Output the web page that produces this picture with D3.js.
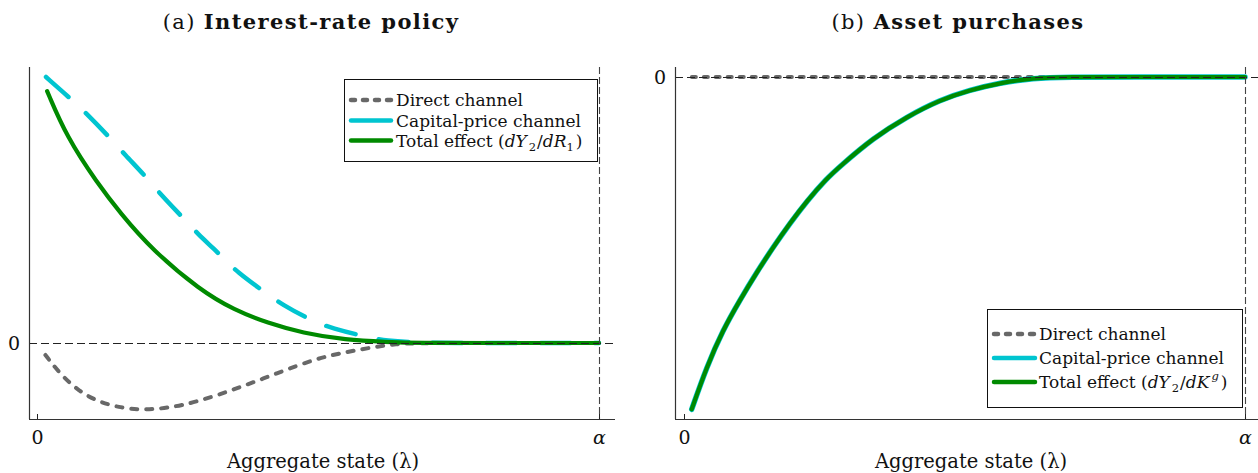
<!DOCTYPE html>
<html>
<head>
<meta charset="utf-8">
<script src="https://cdn.jsdelivr.net/npm/d3@7"></script>
<style>
  html, body { margin: 0; padding: 0; background: #fff; }
  svg { display: block; }
  text { font-family: "DejaVu Serif", "Liberation Serif", serif; fill: #111; }
</style>
</head>
<body>
<svg id="chart" width="1258" height="473"></svg>
<script>
// ---------------- DATA ----------------
// x is the aggregate state lambda, measured as a share of alpha (0 .. 1)
const xTickValues = [0, 1];
const xTickLabels = ["0", "α"];
const yTickValues = [0];
const yTickLabels = ["0"];

// Panel (a): interest-rate policy (arbitrary units, capital-price channel start = 1)
const leftDirectX  = [0.015, 0.040, 0.075, 0.110, 0.145, 0.184, 0.230, 0.286, 0.356, 0.427, 0.497, 0.553, 0.603, 0.639, 0.673, 0.80, 1.00];
const leftDirectY  = [-0.045, -0.114, -0.183, -0.221, -0.242, -0.252, -0.246, -0.221, -0.171, -0.114, -0.058, -0.033, -0.014, -0.004, 0.0, 0.0, 0.0];

const leftCapitalX = [0.016, 0.062, 0.089, 0.130, 0.155, 0.196, 0.221, 0.262, 0.286, 0.317, 0.329, 0.356, 0.407, 0.434, 0.493, 0.525, 0.585, 0.621, 0.681, 0.80, 1.00];
const leftCapitalY = [1.000, 0.914, 0.861, 0.771, 0.711, 0.620, 0.556, 0.466, 0.410, 0.350, 0.323, 0.267, 0.188, 0.147, 0.079, 0.056, 0.023, 0.008, 0.0, 0.0, 0.0];

const leftTotalX   = [0.018, 0.053, 0.107, 0.148, 0.205, 0.290, 0.351, 0.411, 0.472, 0.550, 0.621, 0.680, 0.80, 1.00];
const leftTotalY   = [0.947, 0.774, 0.602, 0.489, 0.350, 0.199, 0.124, 0.075, 0.038, 0.011, 0.004, 0.0, 0.0, 0.0];

// Panel (b): asset purchases (arbitrary units, total effect start = -1)
const rightDirectX  = [0.014, 0.25, 0.50, 0.75, 1.00];
const rightDirectY  = [0.0, 0.0, 0.0, 0.0, 0.0];

const rightCapitalX = [0.0137, 0.0405, 0.0695, 0.0998, 0.1296, 0.1586, 0.189, 0.2187, 0.254, 0.278, 0.337, 0.397, 0.456, 0.510, 0.563, 0.622, 0.683, 0.80, 1.00];
const rightCapitalY = [-1.000, -0.872, -0.761, -0.671, -0.588, -0.513, -0.440, -0.374, -0.306, -0.269, -0.184, -0.120, -0.069, -0.039, -0.018, -0.003, 0.0, 0.0, 0.0];

const rightTotalX   = [0.0137, 0.0405, 0.0695, 0.0998, 0.1296, 0.1586, 0.189, 0.2187, 0.254, 0.278, 0.337, 0.397, 0.456, 0.510, 0.563, 0.622, 0.683, 0.80, 1.00];
const rightTotalY   = [-1.000, -0.872, -0.761, -0.671, -0.588, -0.513, -0.440, -0.374, -0.306, -0.269, -0.184, -0.120, -0.069, -0.039, -0.018, -0.003, 0.0, 0.0, 0.0];

const seriesNames = ["Direct channel", "Capital-price channel", "Total effect"];
const xAxisLabel = "Aggregate state (λ)";

// ---------------- STYLE ----------------
const COL_DIRECT = "#686868";
const COL_CAPITAL = "#00c5d0";
const COL_TOTAL = "#008a00";

const svg = d3.select("#chart");
const zip = (xs, ys) => xs.map((x, i) => ({x, y: ys[i]}));

function drawPanel(cfg) {
  const g = svg.append("g");
  const x = d3.scaleLinear().domain([0, 1]).range(cfg.xRange);
  const y = d3.scaleLinear().domain(cfg.yDomain).range(cfg.yRange);
  const line = d3.line().x(d => x(d.x)).y(d => y(d.y)).curve(d3.curveBasis);

  // series
  g.append("path").datum(zip(cfg.direct[0], cfg.direct[1]))
    .attr("d", line).attr("fill", "none").attr("stroke", COL_DIRECT)
    .attr("stroke-width", 4).attr("stroke-linecap", "round")
    .attr("stroke-dasharray", cfg.dotDash);
  g.append("path").datum(zip(cfg.capital[0], cfg.capital[1]))
    .attr("d", line).attr("fill", "none").attr("stroke", COL_CAPITAL)
    .attr("stroke-width", cfg.capitalWidth).attr("stroke-linecap", "round")
    .attr("stroke-dasharray", cfg.capitalDash);
  g.append("path").datum(zip(cfg.total[0], cfg.total[1]))
    .attr("d", line).attr("fill", "none").attr("stroke", COL_TOTAL)
    .attr("stroke-width", 4.2).attr("stroke-linecap", "round");

  // reference lines (on top)
  g.append("line").attr("x1", cfg.plotLeft).attr("x2", cfg.plotRight)
    .attr("y1", Math.round(y(0)) + 0.5).attr("y2", Math.round(y(0)) + 0.5)
    .attr("stroke", "#222").attr("stroke-width", 1.1).attr("stroke-dasharray", "8,4");
  g.append("line").attr("x1", x(1) + 0.5).attr("x2", x(1) + 0.5)
    .attr("y1", cfg.plotTop).attr("y2", cfg.plotBottom)
    .attr("stroke", "#444").attr("stroke-width", 1.1).attr("stroke-dasharray", "7,3");

  // axes
  const xAxis = d3.axisBottom(x).tickValues(xTickValues)
    .tickFormat((d, i) => xTickLabels[i]).tickSize(-5).tickPadding(12);
  const gx = g.append("g").attr("transform", `translate(0,${cfg.plotBottom})`).call(xAxis);
  gx.select(".domain").remove();
  gx.selectAll(".tick line").attr("stroke", "#222");
  gx.selectAll(".tick text").attr("font-size", 19).attr("font-family", "DejaVu Serif")
    .attr("fill", "#111").style("font-style", (d) => d === 1 ? "italic" : "normal");

  const yAxis = d3.axisLeft(y).tickValues(yTickValues)
    .tickFormat((d, i) => yTickLabels[i]).tickSize(-5).tickPadding(9);
  const gy = g.append("g").attr("transform", `translate(${cfg.plotLeft},0)`).call(yAxis);
  gy.select(".domain").remove();
  gy.selectAll(".tick line").attr("stroke", "#222");
  gy.selectAll(".tick text").attr("font-size", 19).attr("font-family", "DejaVu Serif").attr("fill", "#111");

  // spines
  g.append("line").attr("x1", cfg.plotLeft + 0.5).attr("x2", cfg.plotLeft + 0.5)
    .attr("y1", cfg.plotTop).attr("y2", cfg.plotBottom).attr("stroke", "#333").attr("stroke-width", 1.2);
  g.append("line").attr("x1", cfg.plotLeft).attr("x2", cfg.plotRight)
    .attr("y1", cfg.plotBottom + 0.5).attr("y2", cfg.plotBottom + 0.5).attr("stroke", "#333").attr("stroke-width", 1.2);

  // title
  const t = g.append("text").attr("x", cfg.titleX).attr("y", 29)
    .attr("text-anchor", "middle").attr("font-size", 21).attr("letter-spacing", 1.4);
  t.append("tspan").text(cfg.titleA + " ");
  t.append("tspan").attr("font-weight", "bold").text(cfg.titleB);

  // x label
  g.append("text").attr("x", cfg.xLabelX).attr("y", 468)
    .attr("text-anchor", "middle").attr("font-size", 19.5).text(xAxisLabel);

  // legend
  const L = cfg.legend;
  g.append("rect").attr("x", L.x + 0.5).attr("y", L.y + 0.5).attr("width", L.w).attr("height", L.h)
    .attr("fill", "#fff").attr("stroke", "#111").attr("stroke-width", 1);
  const items = [
    {c: COL_DIRECT, dash: "4,8"},
    {c: COL_CAPITAL, dash: null},
    {c: COL_TOTAL, dash: null}
  ];
  items.forEach((it, i) => {
    const yy = L.rows[i];
    const ln = g.append("line").attr("x1", L.sx1).attr("x2", L.sx2).attr("y1", yy).attr("y2", yy)
      .attr("stroke", it.c).attr("stroke-width", 4.5).attr("stroke-linecap", "round");
    if (it.dash) ln.attr("stroke-dasharray", it.dash);
    const tx = g.append("text").attr("x", L.tx).attr("y", yy + 6).attr("font-size", 17);
    if (i < 2) {
      tx.text(seriesNames[i]);
    } else {
      tx.append("tspan").text(seriesNames[2] + " (");
      tx.append("tspan").style("font-style", "italic").text("dY");
      tx.append("tspan").attr("font-size", 11.5).attr("dx", 2).attr("dy", 4).text("2");
      tx.append("tspan").attr("dy", -4).attr("dx", 1).text("/");
      tx.append("tspan").style("font-style", "italic").text("d" + cfg.denom);
      tx.append("tspan").attr("font-size", 11.5).attr("dx", cfg.denomSub ? 0 : 2).attr("dy", cfg.denomSub ? 4 : -8)
        .style("font-style", cfg.denomSub ? "normal" : "italic").text(cfg.denomScript);
      tx.append("tspan").attr("dx", 2).attr("dy", cfg.denomSub ? -4 : 8).text(")");
    }
  });
}

drawPanel({
  xRange: [37, 599], yDomain: [0, 1], yRange: [343, 77],
  plotLeft: 29, plotRight: 615, plotTop: 67, plotBottom: 419,
  direct: [leftDirectX, leftDirectY],
  capital: [leftCapitalX, leftCapitalY],
  total: [leftTotalX, leftTotalY],
  dotDash: "6,9", capitalDash: "30,24", capitalWidth: 4.5,
  titleX: 311, titleA: "(a)", titleB: "Interest-rate policy",
  xLabelX: 323,
  denom: "R", denomScript: "1", denomSub: true,
  legend: {x: 344, y: 79, w: 253, h: 82, rows: [100, 120.5, 140.5], sx1: 351, sx2: 391, tx: 396}
});

drawPanel({
  xRange: [684, 1245], yDomain: [-1, 0], yRange: [409.3, 77],
  plotLeft: 675, plotRight: 1258, plotTop: 67, plotBottom: 419,
  direct: [rightDirectX, rightDirectY],
  capital: [rightCapitalX, rightCapitalY],
  total: [rightTotalX, rightTotalY],
  dotDash: "4,8", capitalDash: null, capitalWidth: 5.5,
  titleX: 958, titleA: "(b)", titleB: "Asset purchases",
  xLabelX: 971,
  denom: "K", denomScript: "g", denomSub: false,
  legend: {x: 987, y: 309, w: 255, h: 98, rows: [334, 358, 382], sx1: 994, sx2: 1035, tx: 1039}
});
</script>
</body>
</html>
